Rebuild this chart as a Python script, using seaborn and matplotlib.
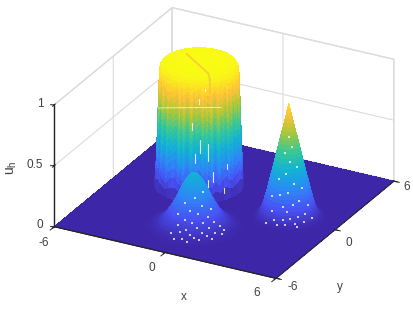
# %%
# Import libraries
import numpy as np
import matplotlib
matplotlib.use('Agg')
import matplotlib.pyplot as plt
import seaborn as sns

sns.set_style('white')
plt.rcParams['font.family'] = ['Liberation Sans', 'DejaVu Sans']
plt.rcParams['mathtext.fontset'] = 'custom'
plt.rcParams['mathtext.rm'] = 'Liberation Sans'
plt.rcParams['axes.unicode_minus'] = False

# %%
# Values
ticks_xy = [-6, 0, 6]
ticks_u = [0, 0.5, 1]
tick_labels_xy = ['-6', '0', '6']
tick_labels_u = ['0', '0.5', '1']

cyl_centre = (-2.1, 1.4)
cyl_r = [0, 0.6, 1.2, 1.6, 1.78, 1.86, 1.9, 1.91, 1.92, 1.93, 1.94, 1.95, 1.96, 1.97, 1.98, 1.99, 2.0, 2.01, 2.02,
         2.03, 2.04, 2.06, 2.08, 2.1, 2.14]
cyl_u = [1, 1, 1, 0.99, 0.98, 0.96, 0.93, 0.89, 0.85, 0.81, 0.77, 0.72, 0.67, 0.62, 0.57, 0.52, 0.47, 0.42, 0.37,
         0.32, 0.27, 0.21, 0.15, 0.08, 0]
cyl_wall = [0, 0, 0, 0, 0, 0, 0.2, 0.4, 0.7, 1, 1, 1, 1, 1, 1, 1, 1, 1, 1, 0.9, 0.8, 0.6, 0.4, 0.2, 0]
# colour streaks of the wall, one per sector
cyl_sag = [0.05, 0.1, 0.02, -0.06, -0.1, 0.01, 0.07, -0.03, 0.09, 0.03, -0.08, -0.11, 0.02, -0.04, 0.08, 0.04,
           -0.05, -0.1, 0.03, 0.07, 0.11, -0.02, -0.07, 0.04, -0.09, -0.03, 0.06, 0.1, -0.04, -0.08, 0.02, -0.05,
           0.04, 0.09, 0.11, -0.01, -0.07, -0.1, 0.03, -0.04, 0.07, 0.1, -0.02, -0.06, -0.11, 0.01, 0.05, 0.09,
           -0.03, -0.08, 0.04, -0.05, 0.08, 0.11, 0.02, -0.06, -0.09, 0.03, -0.07, 0.05, 0.1, -0.02, -0.05, 0.03]
# slot across the top, running down the wall at its end
slot_x = [-3.03, -2.06, -1.09, -0.72, -0.72]
slot_y = [1.88, 1.17, 0.46, -0.09, -0.09]
slot_u = [1, 1, 1, 1, 0.885]

# white gaps on the wall
streak_theta = [-61, -49, -68, -49, -42, -19, -24, -72, -62, -53]
streak_lo = [0.40, 0.33, 0.31, 0.06, 0.15, 0.23, 0.04, 0.58, 0.80, 0.90]
streak_hi = [0.50, 0.47, 0.39, 0.17, 0.23, 0.27, 0.08, 0.64, 0.84, 0.92]
seam_x = [-3.69, -0.21]
seam_y = [0.16, 0.13]
seam_u = [0.646, 0.776]

hump_centre = (-0.1, -2.85)
hump_r = [0, 0.08, 0.15, 0.22, 0.3, 0.38, 0.45, 0.52, 0.6, 0.68, 0.75, 0.82, 0.9, 0.98, 1.05, 1.12, 1.2, 1.28,
          1.35, 1.42, 1.5, 1.58, 1.65, 1.72, 1.8, 1.88, 1.95, 2.02, 2.1, 2.2, 2.3, 2.5]
hump_u = [0.44, 0.437, 0.43, 0.42, 0.405, 0.39, 0.37, 0.35, 0.325, 0.30, 0.275, 0.25, 0.225, 0.2, 0.18, 0.16,
          0.14, 0.12, 0.105, 0.09, 0.075, 0.063, 0.052, 0.043, 0.035, 0.028, 0.022, 0.017, 0.012, 0.007, 0.003, 0]
hump_speck_theta = [-22, -61, -93, -38, -74, -12, -52, -107, -29, -84, -66, -44, -18, -97, -57, -33, -78, -8,
                    -48, -88, -70, -26, -102, -41, -63, -15, -81, -55, -36, -92, -5, -72]
hump_speck_r = [0.62, 0.71, 0.83, 0.88, 0.97, 1.02, 1.06, 1.12, 1.17, 1.21, 1.26, 1.29, 1.33, 1.38, 1.41, 1.46,
                1.49, 1.52, 1.57, 1.6, 1.63, 1.68, 1.71, 1.74, 1.77, 1.81, 1.84, 1.87, 1.91, 1.94, 1.72, 1.97]
hump_speck_u = [0.32, 0.29, 0.25, 0.23, 0.2, 0.19, 0.18, 0.16, 0.15, 0.14, 0.125, 0.12, 0.11, 0.1, 0.095, 0.085,
                0.08, 0.07, 0.065, 0.06, 0.055, 0.05, 0.045, 0.042, 0.04, 0.032, 0.03, 0.028, 0.025, 0.022, 0.042, 0.02]

cone_centre = (3.4, 0.2)
cone_r = [0, 0.05, 0.1, 0.15, 0.2, 0.25, 0.3, 0.35, 0.4, 0.45, 0.5, 0.55, 0.6, 0.65, 0.7, 0.75, 0.8, 0.85, 0.9,
          0.95, 1.0, 1.05, 1.1, 1.15, 1.2, 1.25, 1.3, 1.35, 1.4, 1.45, 1.5, 1.6, 1.75]
cone_u = [0.93, 0.895, 0.86, 0.825, 0.79, 0.755, 0.72, 0.69, 0.66, 0.625, 0.59, 0.555, 0.52, 0.485, 0.45, 0.415,
          0.38, 0.35, 0.32, 0.285, 0.25, 0.22, 0.19, 0.16, 0.13, 0.105, 0.085, 0.065, 0.05, 0.04, 0.03, 0.012, 0]
cone_speck_theta = [-62, -41, -83, -56, -27, -72, -98, -46, -18, -64, -88, -112, -35, -52, -77, -12, -67, -103,
                    -24, -43, -59, -74, -93, -8, -31, -50, -70, -85, -108, -47]
cone_speck_r = [0.36, 0.47, 0.55, 0.63, 0.71, 0.76, 0.84, 0.88, 0.93, 0.97, 1.01, 1.04, 1.08, 1.11, 1.14, 1.17,
                1.2, 1.23, 1.26, 1.28, 1.31, 1.33, 1.36, 1.38, 1.4, 1.42, 1.44, 1.47, 1.5, 1.53]
cone_speck_u = [0.685, 0.61, 0.56, 0.5, 0.45, 0.41, 0.36, 0.33, 0.29, 0.27, 0.245, 0.225, 0.2, 0.18, 0.165, 0.15,
                0.13, 0.115, 0.1, 0.09, 0.08, 0.075, 0.06, 0.055, 0.05, 0.045, 0.04, 0.035, 0.03, 0.025]

parula = [(0.2422, 0.1504, 0.6603), (0.2810, 0.3228, 0.9579), (0.1786, 0.5289, 0.9682), (0.0689, 0.6948, 0.8394),
          (0.2161, 0.7843, 0.5923), (0.6720, 0.7793, 0.2227), (0.9970, 0.7659, 0.2199), (0.9769, 0.9839, 0.0805)]

# %%
cmap = sns.blend_palette(parula, n_colors=256, as_cmap=True)


def revolve(centre, r, u):
    theta = np.linspace(0, 2 * np.pi, len(cyl_sag) + 1)
    R, T = np.meshgrid(r, theta)
    X = centre[0] + R * np.cos(T)
    Y = centre[1] + R * np.sin(T)
    U = np.tile(u, (len(theta), 1))
    return X, Y, U


def specks(centre, angles, radius, height):
    rad = np.radians(angles)
    ax.scatter(centre[0] + np.array(radius) * np.cos(rad), centre[1] + np.array(radius) * np.sin(rad), height,
               s=0.6, c='white', marker='s', linewidths=0, alpha=0.75, depthshade=False, zorder=5)


fig = plt.figure(figsize=(4.13, 3.10), dpi=100)
# the 3d axes keeps a square box, so make it wide enough not to clip the floor
ax = fig.add_axes([12 / 413, 6.5 / 310 - 0.2, 1, 1.4], projection='3d', proj_type='ortho', computed_zorder=False)
ax.view_init(elev=26, azim=-62)
ax.set_box_aspect((1, 1, 0.54), zoom=0.893)
ax.set_xlim(-6, 6, view_margin=0)
ax.set_ylim(-6, 6, view_margin=0)
ax.set_zlim(0, 1, view_margin=0)

style = dict(cmap=cmap, vmin=0, vmax=1, rstride=1, cstride=1, linewidth=0, antialiased=False, shade=False)

# floor
fx, fy = np.meshgrid(ticks_xy, ticks_xy)
ax.plot_surface(fx, fy, np.zeros_like(fx, dtype=float), zorder=1, **style)

# slotted cylinder
X, Y, U = revolve(cyl_centre, cyl_r, cyl_u)
U[:-1] = U[:-1] + np.outer(cyl_sag, cyl_wall)
U[-1] = U[0]
ax.plot_surface(X, Y, U, zorder=2, **style)
ax.plot(slot_x, slot_y, slot_u, color=cmap(0.84), lw=1.3, alpha=0.8, zorder=2.4)

# gaps in the wall
for th, lo, hi in zip(streak_theta, streak_lo, streak_hi):
    sx = cyl_centre[0] + 1.95 * np.cos(np.radians(th))
    sy = cyl_centre[1] + 1.95 * np.sin(np.radians(th))
    ax.plot([sx, sx], [sy, sy], [lo, hi], color='white', lw=0.8, alpha=0.85, zorder=2.5)
ax.plot(seam_x, seam_y, seam_u, color='white', lw=0.6, alpha=0.8, zorder=2.5)

# cone and hump
X, Y, U = revolve(cone_centre, cone_r, cone_u)
ax.plot_surface(X, Y, U, zorder=3, **style)
X, Y, U = revolve(hump_centre, hump_r, hump_u)
ax.plot_surface(X, Y, U, zorder=4, **style)
specks(hump_centre, hump_speck_theta, hump_speck_r, hump_speck_u)
specks(cone_centre, cone_speck_theta, cone_speck_r, cone_speck_u)

# floor edges sit on top of the surface
lo, hi = ticks_xy[0], ticks_xy[-1]
ax.plot([lo, hi], [lo, lo], [0, 0], color='#262626', lw=0.9, zorder=6)
ax.plot([hi, hi], [lo, hi], [0, 0], color='#262626', lw=0.6, zorder=6)

# tick marks, the white style leaves none on the 3d axes
for t in ticks_xy:
    ax.plot([t, t], [lo, lo - 0.44], [0, 0], color='#262626', lw=0.7, zorder=6)
    ax.plot([hi, hi + 0.3], [t, t], [0, 0], color='#262626', lw=0.7, zorder=6)
for t in ticks_u:
    ax.plot([lo, lo - 0.17], [lo, lo - 0.09], [t, t], color='#262626', lw=0.7, zorder=6)

# Labels, ticks
ax.set_xticks(ticks_xy, labels=[])
ax.set_yticks(ticks_xy, labels=[])
ax.set_zticks(ticks_u, labels=[])
ax.zaxis.set_ticks_position('lower')

for axis in (ax.xaxis, ax.yaxis, ax.zaxis):
    axis.set_pane_color((1, 1, 1, 1))
    axis.pane.set_edgecolor('#dcdcdc')
    axis.line.set_color('#262626')
    axis.line.set_linewidth(1.0)
    axis._axinfo['grid'].update(color='#dcdcdc', linewidth=0.8)


def label(px, py, text, **kw):
    fig.text(px / 413, 1 - py / 310, text, color='#404040', ha='center', va='center', **kw)


for lab, px, py in zip(tick_labels_xy, [44, 152, 257], [243, 268, 293]):
    label(px, py, lab, fontsize=8.5)
for lab, px, py in zip(tick_labels_xy, [293, 349, 407], [287, 243, 187]):
    label(px, py, lab, fontsize=8.5)
for lab, px, py in zip(tick_labels_u, [40, 35, 40], [225, 165, 104]):
    label(px, py, lab, fontsize=8.5)
label(184, 297, 'x', fontsize=8.5)
label(340, 287, 'y', fontsize=8.5)
label(12, 168, '$\\mathrm{u_h}$', fontsize=10, rotation=90)

fig.savefig('out.png', dpi=100)
